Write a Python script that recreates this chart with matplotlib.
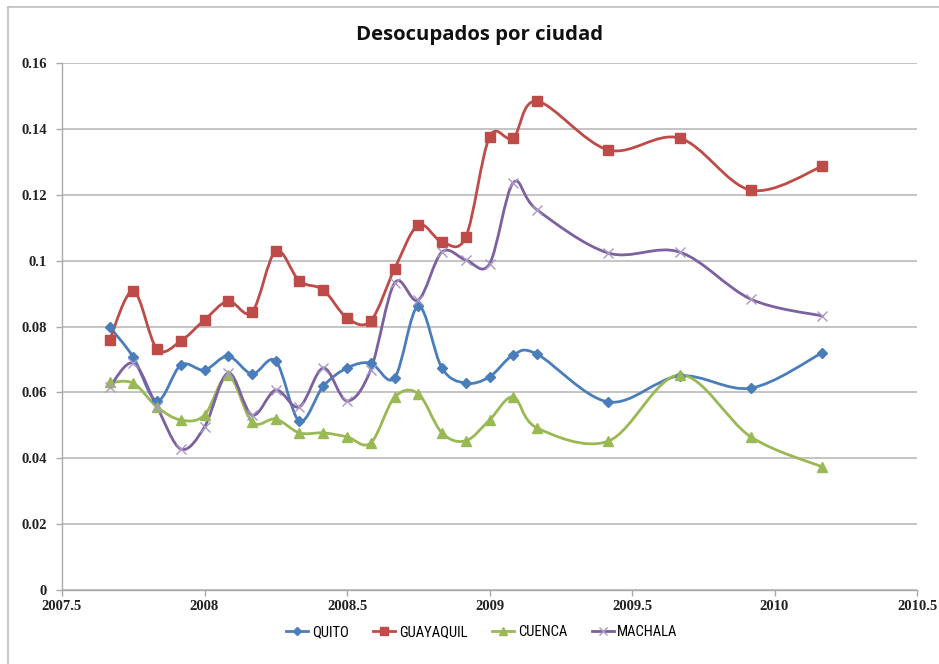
import numpy as np
import matplotlib
matplotlib.use("Agg")
import matplotlib.pyplot as plt
from matplotlib.path import Path
from matplotlib.patches import PathPatch
from matplotlib.lines import Line2D

# fechas (fraccion de anio) y tasas de desocupacion
fechas = [2007.667, 2007.750, 2007.833, 2007.917, 2008.000, 2008.083, 2008.167,
          2008.250, 2008.333, 2008.417, 2008.500, 2008.583, 2008.667, 2008.750,
          2008.833, 2008.917, 2009.000, 2009.083, 2009.167, 2009.417, 2009.667,
          2009.917, 2010.167]

quito = [0.0799, 0.0707, 0.0574, 0.0683, 0.0668, 0.0710, 0.0656, 0.0695, 0.0513,
         0.0619, 0.0674, 0.0689, 0.0644, 0.0862, 0.0674, 0.0628, 0.0647, 0.0713,
         0.0716, 0.0571, 0.0650, 0.0613, 0.0720]
guayaquil = [0.0759, 0.0908, 0.0732, 0.0756, 0.0820, 0.0877, 0.0844, 0.1029, 0.0938,
             0.0911, 0.0826, 0.0817, 0.0975, 0.1108, 0.1057, 0.1072, 0.1375, 0.1372,
             0.1484, 0.1336, 0.1372, 0.1214, 0.1286]
cuenca = [0.0630, 0.0628, 0.0556, 0.0516, 0.0531, 0.0652, 0.0510, 0.0519, 0.0477,
          0.0477, 0.0465, 0.0446, 0.0585, 0.0596, 0.0477, 0.0453, 0.0516, 0.0586,
          0.0492, 0.0452, 0.0653, 0.0465, 0.0374]
machala = [0.0616, 0.0689, 0.0556, 0.0428, 0.0495, 0.0659, 0.0531, 0.0607, 0.0556,
           0.0674, 0.0574, 0.0668, 0.0932, 0.0880, 0.1026, 0.1002, 0.0990, 0.1236,
           0.1154, 0.1023, 0.1026, 0.0883, 0.0832]

series = [
    ("QUITO", quito, "#4a7ebb", "D", 5),
    ("GUAYAQUIL", guayaquil, "#be4b48", "s", 7),
    ("CUENCA", cuenca, "#98b954", "^", 7),
    ("MACHALA", machala, "#7d60a0", "x", 7),
]

narrow = ["Liberation Sans Narrow", "Roboto Condensed", "DejaVu Sans"]


def smooth_path(x, y):
    # curva suavizada estilo Excel (bezier por tramos)
    x = np.asarray(x)
    y = np.asarray(y)
    n = len(x)
    verts = [(x[0], y[0])]
    codes = [Path.MOVETO]
    for i in range(n - 1):
        p0 = np.array([x[max(i - 1, 0)], y[max(i - 1, 0)]])
        p1 = np.array([x[i], y[i]])
        p2 = np.array([x[i + 1], y[i + 1]])
        p3 = np.array([x[min(i + 2, n - 1)], y[min(i + 2, n - 1)]])
        c1 = p1 + (p2 - p0) / 6
        c2 = p2 - (p3 - p1) / 6
        verts += [tuple(c1), tuple(c2), tuple(p2)]
        codes += [Path.CURVE4] * 3
    return Path(verts, codes)


fig = plt.figure(figsize=(9.39, 6.64), dpi=100)
ax = fig.add_axes([62 / 939, 74 / 664, 855 / 939, 527 / 664])

for name, vals, color, marker, ms in series:
    patch = PathPatch(smooth_path(fechas, vals), facecolor="none",
                      edgecolor=color, lw=2.0, zorder=3)
    ax.add_patch(patch)
    if marker == "x":
        ax.plot(fechas, vals, ls="none", marker=marker, ms=ms, mew=1.0,
                color="#a898c8", zorder=4)
    else:
        ax.plot(fechas, vals, ls="none", marker=marker, ms=ms, color=color,
                markeredgecolor=color, zorder=4)

ax.set_xlim(2007.5, 2010.5)
ax.set_ylim(0, 0.16)
ax.set_xticks([2007.5, 2008, 2008.5, 2009, 2009.5, 2010, 2010.5])
ax.set_xticklabels(["2007.5", "2008", "2008.5", "2009", "2009.5", "2010", "2010.5"])
ax.set_yticks(np.arange(0, 0.161, 0.02))
ax.set_yticklabels(["0", "0.02", "0.04", "0.06", "0.08", "0.1", "0.12", "0.14", "0.16"])

ax.yaxis.grid(True, color="#bfbfbf", lw=1.3)
ax.set_axisbelow(True)
for s in ["top", "right"]:
    ax.spines[s].set_visible(False)
for s in ["left", "bottom"]:
    ax.spines[s].set_color("#aaaaaa")
    ax.spines[s].set_linewidth(1.0)
ax.tick_params(axis="both", colors="#aaaaaa", length=4, width=1.0,
               labelcolor="#222222", labelsize=10.5)
ax.tick_params(axis="x", pad=3)
ax.tick_params(axis="y", pad=7)
for lab in ax.get_xticklabels() + ax.get_yticklabels():
    lab.set_family("Liberation Serif")
    lab.set_fontweight("bold")

fig.text(480 / 939, 1 - 35 / 664, "Desocupados por ciudad", ha="center", va="center",
         fontsize=14.7, fontweight="bold", family="Open Sans", color="#111111")

handles = []
for name, vals, color, marker, ms in series:
    mc = "#a898c8" if marker == "x" else color
    handles.append(Line2D([], [], color=color, lw=2, marker=marker, ms=ms * 0.8,
                          markerfacecolor=mc, markeredgecolor=mc))
fig.legend(handles, [s[0] for s in series], loc="center", ncol=4,
           bbox_to_anchor=(482 / 939, 1 - 632 / 664), frameon=False,
           prop={"family": narrow, "size": 10.5}, handlelength=1.5,
           columnspacing=1.7, handletextpad=0.25)

# marco del grafico
fig.add_artist(Line2D([8 / 939, 8 / 939], [0, 1 - 7 / 664], color="#bfbfbf", lw=1.2))
fig.add_artist(Line2D([8 / 939, 1], [1 - 7 / 664, 1 - 7 / 664], color="#bfbfbf", lw=1.2))

fig.savefig("out.png", dpi=100)
